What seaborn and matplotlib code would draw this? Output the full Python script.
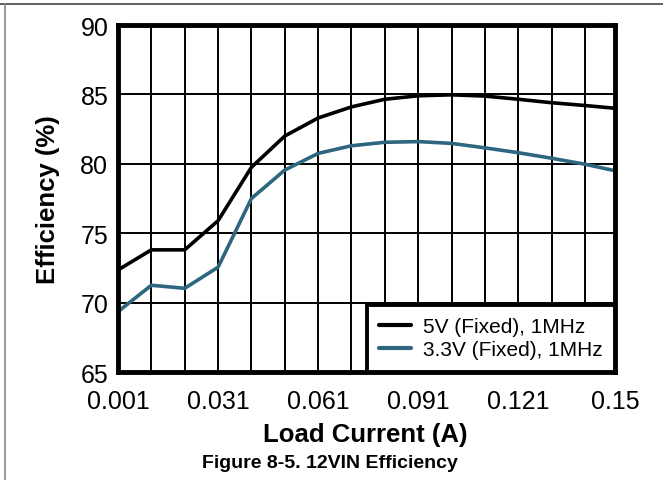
import numpy as np
import pandas as pd
import matplotlib
matplotlib.use("Agg")
import matplotlib.pyplot as plt
import seaborn as sns
from matplotlib.lines import Line2D

load_current = [0.001, 0.011, 0.021, 0.031, 0.041, 0.051, 0.061, 0.071, 0.081,
                0.091, 0.101, 0.111, 0.121, 0.131, 0.141, 0.15]
eff_5v = [72.35, 73.8, 73.8, 75.9, 79.75, 82.0, 83.3, 84.1, 84.65,
          84.9, 84.97, 84.88, 84.65, 84.4, 84.2, 84.0]
eff_3v3 = [69.35, 71.25, 71.03, 72.55, 77.5, 79.55, 80.75, 81.3, 81.55,
           81.6, 81.47, 81.15, 80.8, 80.4, 79.97, 79.5]
series_names = ["5V (Fixed), 1MHz", "3.3V (Fixed), 1MHz"]
series_colors = ["#000000", "#2e6680"]
x_ticks = [0.001, 0.031, 0.061, 0.091, 0.121, 0.15]
x_tick_labels = ["0.001", "0.031", "0.061", "0.091", "0.121", "0.15"]
x_grid = [0.001 + 0.01 * i for i in range(15)] + [0.15]
y_ticks = [65, 70, 75, 80, 85, 90]

df = pd.DataFrame({
    "Load Current (A)": load_current * 2,
    "Efficiency (%)": eff_5v + eff_3v3,
    "Series": [series_names[0]] * len(load_current) + [series_names[1]] * len(load_current),
})

sns.set_style("white")
plt.rcParams["font.family"] = ["Liberation Sans", "DejaVu Sans"]
plt.rcParams["text.color"] = "black"
plt.rcParams["axes.labelcolor"] = "black"

W, H = 663, 481
fig = plt.figure(figsize=(W / 100, H / 100), dpi=100)
ax = fig.add_axes([118 / W, 1 - 373 / H, (615 - 118) / W, (373 - 26) / H])

for xg in x_grid:
    ax.axvline(xg, color="black", lw=1.4, zorder=1)
for yg in y_ticks:
    ax.axhline(yg, color="black", lw=1.4, zorder=1)

sns.lineplot(data=df, x="Load Current (A)", y="Efficiency (%)", hue="Series",
             palette=dict(zip(series_names, series_colors)), lw=2.6, ax=ax,
             zorder=3)

ax.set_xlim(0.001, 0.15)
ax.set_ylim(65, 90)
ax.set_xticks(x_ticks)
ax.set_xticklabels(x_tick_labels)
ax.set_yticks(y_ticks)
ax.tick_params(axis="both", labelsize=18, length=0, colors="black")
ax.tick_params(axis="x", pad=12)
ax.tick_params(axis="y", pad=7)
ax.set_xlabel("Load Current (A)", fontsize=18.5, fontweight="bold", color="black")
ax.set_ylabel("Efficiency (%)", fontsize=18.5, fontweight="bold", color="black")
ax.xaxis.set_label_coords(0.5 - 1 / 497, (373 - 423) / 347)
ax.yaxis.set_label_coords((60 - 118) / 497, 0.5)
for s in ax.spines.values():
    s.set_visible(True)
    s.set_color("black")
    s.set_linewidth(3.5)
    s.set_zorder(5)

leg = ax.legend(loc="lower right", fontsize=15, frameon=True, fancybox=False,
                framealpha=1, borderaxespad=0, handlelength=1.55,
                handletextpad=0.55, borderpad=0.6, labelspacing=0.2)
leg.get_frame().set_edgecolor("black")
leg.get_frame().set_linewidth(2.8)
leg.set_zorder(6)
for t in leg.get_texts():
    t.set_color("black")
for h in leg.get_lines():
    h.set_linewidth(3)

fig.text(330 / W, 1 - 464 / H, "Figure 8-5. 12VIN Efficiency", ha="center",
         va="center", fontsize=14, fontweight="bold", color="black")

fig.add_artist(Line2D([0, 1], [1 - 4.5 / H, 1 - 4.5 / H], color="#444444", lw=1.2,
                      transform=fig.transFigure))
fig.add_artist(Line2D([4.5 / W, 4.5 / W], [0, 1 - 4.5 / H], color="#888888", lw=1.2,
                      transform=fig.transFigure))

fig.savefig("out.png", dpi=100)
